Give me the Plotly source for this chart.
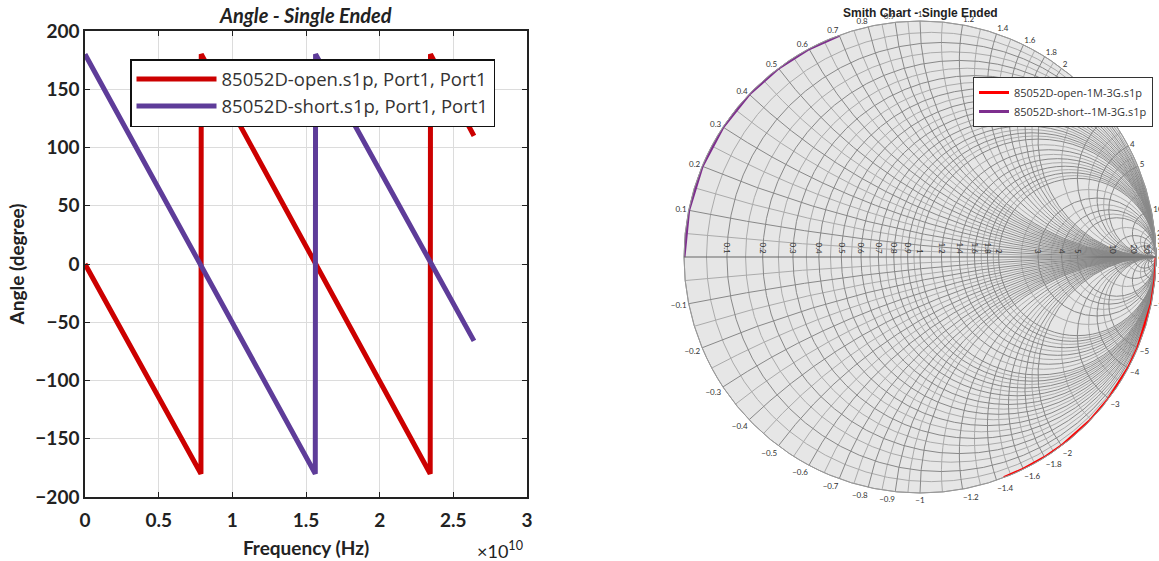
import plotly.graph_objects as go

# ---- Angle plot data ----
open_freq = [0, 0.787e10, 0.789e10, 2.343e10, 2.345e10, 2.64e10]
open_angle = [0, -180, 180, -180, 180, 110]
short_freq = [0, 1.563e10, 1.565e10, 2.64e10]
short_angle = [180, -180, 180, -66]

# ---- Smith chart data (reactance read along the rim, r = 0) ----
open_imag = [-1000, -50, -20, -10, -5, -4, -3, -2.5, -2, -1.8, -1.6, -1.45]
open_real = [0] * len(open_imag)
short_imag = [0, 0.1, 0.2, 0.3, 0.4, 0.5, 0.6, 0.7]
short_real = [0] * len(short_imag)

x_ticks = [0, 0.5e10, 1e10, 1.5e10, 2e10, 2.5e10, 3e10]
x_ticklabels = ["0", "0.5", "1", "1.5", "2", "2.5", "3"]
y_ticks = [-200, -150, -100, -50, 0, 50, 100, 150, 200]

smith_real_ticks = [0.1, 0.2, 0.3, 0.4, 0.5, 0.6, 0.7, 0.8, 0.9, 1, 1.2, 1.4, 1.6, 1.8, 2, 3, 4, 5, 10, 20, 50]
smith_imag_pos = [0.1, 0.2, 0.3, 0.4, 0.5, 0.6, 0.7, 0.8, 0.9, 1, 1.2, 1.4, 1.6, 1.8, 2, 3, 4, 5, 10, 20, 30, 50]
smith_imag_neg = [-0.1, -0.2, -0.3, -0.4, -0.5, -0.6, -0.7, -0.8, -0.9, -1, -1.2, -1.4, -1.6, -1.8, -2, -3, -4, -5, -10, -20, -30, -50]
# minor (unlabelled) grid values
smith_minor_real = [0.05, 0.15, 0.25, 0.35, 0.45, 0.55, 0.65, 0.75, 0.85, 0.95,
                    1.1, 1.3, 1.5, 1.7, 1.9, 2.5, 3.5, 4.5, 7, 15]
smith_minor_imag = [0.05, 0.15, 0.25, 0.35, 0.45, 0.55, 0.65, 0.75, 0.85, 0.95,
                    1.1, 1.3, 1.5, 1.7, 1.9, 2.5, 3.5, 4.5, 7, 15,
                    -0.05, -0.15, -0.25, -0.35, -0.45, -0.55, -0.65, -0.75, -0.85, -0.95,
                    -1.1, -1.3, -1.5, -1.7, -1.9, -2.5, -3.5, -4.5, -7, -15]

RED = "#cc0000"
PURPLE = "#5e3c99"
SRED = "#ff0000"
SPURPLE = "#7e2f8e"

FONT = "Lato"
W, H = 1159, 561

fig = go.Figure()
fig.add_trace(go.Scatter(x=open_freq, y=open_angle, mode="lines",
                         line=dict(color=RED, width=5),
                         name="85052D-open.s1p, Port1, Port1", legend="legend"))
fig.add_trace(go.Scatter(x=short_freq, y=short_angle, mode="lines",
                         line=dict(color=PURPLE, width=5),
                         name="85052D-short.s1p, Port1, Port1", legend="legend"))

fig.add_trace(go.Scattersmith(real=open_real, imag=open_imag, mode="lines",
                              line=dict(color=SRED, width=3), subplot="smith2",
                              name="85052D-open-1M-3G.s1p", legend="legend2"))
fig.add_trace(go.Scattersmith(real=short_real, imag=short_imag, mode="lines",
                              line=dict(color=SPURPLE, width=3), subplot="smith2",
                              name="85052D-short--1M-3G.s1p", legend="legend2"))
# empty trace to instantiate the underlay (minor) smith grid
fig.add_trace(go.Scattersmith(real=[], imag=[], subplot="smith", showlegend=False,
                              hoverinfo="skip"))

smith_domain = dict(x=[(920 - 236) / W, (920 + 236) / W],
                    y=[(H - 257 - 236) / H, (H - 257 + 236) / H])

fig.update_layout(
    width=W, height=H,
    margin=dict(l=0, r=0, t=0, b=0),
    paper_bgcolor="white",
    plot_bgcolor="white",
    showlegend=True,
    font=dict(family=FONT, color="#222"),
    xaxis=dict(domain=[85 / W, 527 / W], range=[0, 3e10], automargin=False,
               tickvals=x_ticks, ticktext=x_ticklabels, ticklabelstandoff=5,
               tickfont=dict(size=19, weight="bold", color="#222"),
               showgrid=True, gridcolor="#dcdcdc", gridwidth=1,
               zeroline=False, showline=True, linecolor="#222", linewidth=1.5,
               mirror="ticks", ticks="inside", ticklen=5, tickcolor="#222",
               title=dict(text="Frequency (Hz)", font=dict(size=19, weight="bold"), standoff=12)),
    yaxis=dict(domain=[1 - 497 / H, 1 - 31 / H], range=[-200, 200], automargin=False,
               tickvals=y_ticks,
               tickfont=dict(size=19, weight="bold", color="#222"),
               showgrid=True, gridcolor="#dcdcdc", gridwidth=1,
               zeroline=False, showline=True, linecolor="#222", linewidth=1.5,
               mirror="ticks", ticks="inside", ticklen=5, tickcolor="#222",
               title=dict(text="Angle (degree)", font=dict(size=19, weight="bold"), standoff=6)),
    smith=dict(
        domain=smith_domain,
        bgcolor="#e6e6e6",
        realaxis=dict(tickvals=smith_minor_real, gridcolor="#ababab", gridwidth=0.7,
                      showticklabels=False, ticks="", showline=False),
        imaginaryaxis=dict(tickvals=smith_minor_imag, gridcolor="#ababab", gridwidth=0.7,
                           showticklabels=False, ticks="", showline=True,
                           linecolor="#999", linewidth=1),
    ),
    smith2=dict(
        domain=smith_domain,
        bgcolor="rgba(0,0,0,0)",
        realaxis=dict(tickvals=smith_real_ticks, gridcolor="#888", gridwidth=0.8,
                      linecolor="#666", linewidth=1, tickangle=90, side="top",
                      tickfont=dict(size=8, color="#333"), ticks="", showline=True),
        imaginaryaxis=dict(tickvals=smith_imag_pos + smith_imag_neg, gridcolor="#888", gridwidth=0.8,
                           linecolor="#999", linewidth=1,
                           tickfont=dict(size=8, color="#333"), ticks=""),
    ),
    legend=dict(x=130 / W, y=1 - 59 / H, xanchor="left", yanchor="top",
                bgcolor="white", bordercolor="#111", borderwidth=1.5,
                font=dict(size=18.5, family="Open Sans", color="#333"),
                tracegroupgap=0, itemwidth=80),
    legend2=dict(x=973 / W, y=1 - 77 / H, xanchor="left", yanchor="top",
                 bgcolor="white", bordercolor="#333", borderwidth=1,
                 font=dict(size=11, family="Open Sans", color="#333"),
                 tracegroupgap=0),
    annotations=[
        dict(text="<b><i>Angle - Single Ended</i></b>", x=305 / W, y=1 - 15 / H,
             xref="paper", yref="paper", showarrow=False, xanchor="center", yanchor="middle",
             font=dict(size=20, family=FONT, color="#222")),
        dict(text="×10<sup>10</sup>", x=500 / W, y=1 - 550 / H,
             xref="paper", yref="paper", showarrow=False, xanchor="center", yanchor="middle",
             font=dict(size=18, family=FONT, color="#222")),
        dict(text="<b>Smith Chart - Single Ended</b>", x=920 / W, y=1 - 13 / H,
             xref="paper", yref="paper", showarrow=False, xanchor="center", yanchor="middle",
             font=dict(size=12, family="Liberation Sans", color="#222")),
    ],
)

fig.write_html("out.html")
